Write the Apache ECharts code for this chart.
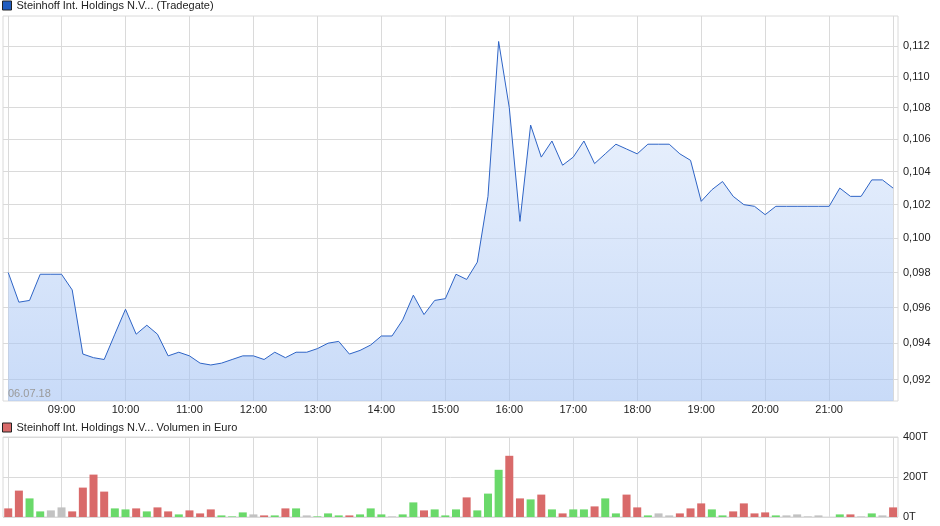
<!DOCTYPE html>
<html><head><meta charset="utf-8">
<script src="https://cdn.jsdelivr.net/npm/echarts@6/dist/echarts.min.js"></script>
<style>html,body{margin:0;padding:0;background:#fff}#c{width:940px;height:526px}</style>
</head><body><div id="c"></div>
<script>
const seriesName = 'Steinhoff Int. Holdings N.V... (Tradegate)';
const volumeName = 'Steinhoff Int. Holdings N.V... Volumen in Euro';
const dateLabel = '06.07.18';

const times = [
 '08:10','08:20','08:30','08:40','08:50',
 '09:00','09:10','09:20','09:30','09:40','09:50',
 '10:00','10:10','10:20','10:30','10:40','10:50',
 '11:00','11:10','11:20','11:30','11:40','11:50',
 '12:00','12:10','12:20','12:30','12:40','12:50',
 '13:00','13:10','13:20','13:30','13:40','13:50',
 '14:00','14:10','14:20','14:30','14:40','14:50',
 '15:00','15:10','15:20','15:30','15:40','15:50',
 '16:00','16:10','16:20','16:30','16:40','16:50',
 '17:00','17:10','17:20','17:30','17:40','17:50',
 '18:00','18:10','18:20','18:30','18:40','18:50',
 '19:00','19:10','19:20','19:30','19:40','19:50',
 '20:00','20:10','20:20','20:30','20:40','20:50',
 '21:00','21:10','21:20','21:30','21:40','21:50',
 '22:00'
];

const prices = [
 0.0980,0.0963,0.0964,0.0979,0.0979,
 0.0979,0.0970,0.0934,0.0932,0.0931,0.0945,
 0.0959,0.0945,0.0950,0.0945,0.0933,0.0935,
 0.0933,0.0929,0.0928,0.0929,0.0931,0.0933,
 0.0933,0.0931,0.0935,0.0932,0.0935,0.0935,
 0.0937,0.0940,0.0941,0.0934,0.0936,0.0939,
 0.0944,0.0944,0.0953,0.0967,0.0956,0.0964,
 0.0965,0.0979,0.0976,0.0986,0.1025,0.1123,
 0.1080,0.1010,0.1069,0.1049,0.1059,0.1044,
 0.1049,0.1059,0.1045,0.1051,0.1057,0.1054,
 0.1051,0.1057,0.1057,0.1057,0.1051,0.1047,
 0.1022,0.1029,0.1034,0.1025,0.1020,0.1019,
 0.1014,0.1019,0.1019,0.1019,0.1019,0.1019,
 0.1019,0.1030,0.1025,0.1025,0.1035,0.1035,
 0.1030
];

// volume in Euro
const volumes = [
 43000,132000,93000,28000,33000,
 48000,28000,147000,212000,127000,43000,
 38000,43000,28000,48000,28000,13000,
 33000,18000,38000,8000,3000,23000,
 13000,8000,8000,43000,43000,8000,
 3000,18000,8000,8000,13000,43000,
 13000,3000,13000,73000,33000,38000,
 8000,38000,98000,33000,117000,236000,
 306000,93000,88000,112000,38000,18000,
 38000,38000,53000,93000,18000,112000,
 48000,8000,18000,8000,18000,43000,
 68000,38000,8000,28000,68000,18000,
 23000,8000,8000,13000,3000,8000,
 0,13000,13000,3000,18000,8000,
 48000
];

// r = down, g = up, n = unchanged
const volumeDir = [
 'r','r','g','g','n',
 'n','r','r','r','r','g',
 'g','r','g','r','r','g',
 'r','r','r','g','g','g',
 'n','r','g','r','g','n',
 'g','g','g','r','g','g',
 'g','n','g','g','r','g',
 'g','g','r','g','g','g',
 'r','r','g','r','g','r',
 'g','g','r','g','g','r',
 'r','g','n','n','r','r',
 'r','g','g','r','r','r',
 'r','g','n','n','n','n',
 'n','g','r','n','g','n',
 'r'
];

const hourTicks = ['09:00','10:00','11:00','12:00','13:00','14:00','15:00','16:00','17:00','18:00','19:00','20:00','21:00'];
const priceTicks = [0.092,0.094,0.096,0.098,0.100,0.102,0.104,0.106,0.108,0.110,0.112];
const volumeTicks = [0,200000,400000];

const dirColors = { r: '#d96a6a', g: '#6ad96a', n: '#c2c2c2' };
const gridColor = '#dadada';
const font = "'Liberation Sans', Arial, sans-serif";

function toMin(t) { const p = t.split(':'); return (+p[0]) * 60 + (+p[1]); }
function fmtTime(v) { const h = Math.floor(v / 60), m = Math.round(v % 60); return (h < 10 ? '0' : '') + h + ':' + (m < 10 ? '0' : '') + m; }

const xVals = times.map(toMin);
const hourVals = hourTicks.map(toMin);
const lineTicks = [xVals[0]].concat(hourVals, [xVals[xVals.length - 1]]);

const xMin = 485.1, xMax = 1324.6;

const chart = echarts.init(document.getElementById('c'), null, { renderer: 'canvas' });

function xAxisCfg(gridIndex, showLabels) {
  return {
    type: 'value', gridIndex: gridIndex, min: xMin, max: xMax,
    axisLine: { show: false },
    axisTick: { show: false, customValues: lineTicks },
    splitLine: { show: true, lineStyle: { color: gridColor, width: 1 } },
    axisLabel: {
      show: showLabels, customValues: hourVals, margin: 3,
      formatter: fmtTime, color: '#222', fontSize: 11, fontFamily: font
    }
  };
}

chart.setOption({
  animation: false,
  backgroundColor: '#fff',
  textStyle: { fontFamily: font },
  title: {
    text: dateLabel, left: 8, top: 388, padding: 0,
    textStyle: { fontSize: 11, color: '#9a9a9a', fontWeight: 'normal', fontFamily: font }
  },
  legend: [
    {
      data: [seriesName], left: 2, top: 0, padding: 0, icon: 'rect',
      itemWidth: 9, itemHeight: 9, itemGap: 5, selectedMode: false,
      itemStyle: { borderColor: '#222', borderWidth: 1 },
      textStyle: { fontSize: 11, color: '#222', fontFamily: font }
    },
    {
      data: [volumeName], left: 2, top: 422, padding: 0, icon: 'rect',
      itemWidth: 9, itemHeight: 9, itemGap: 5, selectedMode: false,
      itemStyle: { borderColor: '#222', borderWidth: 1 },
      textStyle: { fontSize: 11, color: '#222', fontFamily: font }
    }
  ],
  grid: [
    { left: 3, right: 42, top: 16, bottom: 125, show: true, borderColor: gridColor, borderWidth: 1 },
    { left: 3, right: 42, top: 437, bottom: 9, show: true, borderColor: gridColor, borderWidth: 1 }
  ],
  xAxis: [xAxisCfg(0, true), xAxisCfg(1, false)],
  yAxis: [
    {
      type: 'log', logBase: 10, gridIndex: 0, position: 'right',
      min: 0.09085, max: 0.1140,
      axisLine: { show: false },
      axisTick: { show: false, customValues: priceTicks },
      splitLine: { show: true, lineStyle: { color: gridColor, width: 1 } },
      axisLabel: {
        customValues: priceTicks, margin: 5, color: '#222', fontSize: 11, fontFamily: font,
        formatter: v => v.toFixed(3).replace('.', ',')
      }
    },
    {
      type: 'value', gridIndex: 1, position: 'right',
      min: volumeTicks[0], max: volumeTicks[volumeTicks.length - 1], interval: volumeTicks[1] - volumeTicks[0],
      axisLine: { show: false },
      axisTick: { show: false },
      splitLine: { show: true, lineStyle: { color: gridColor, width: 1 } },
      axisLabel: {
        margin: 5, color: '#222', fontSize: 11, fontFamily: font,
        formatter: v => Math.round(v / 1000) + 'T'
      }
    }
  ],
  series: [
    {
      name: seriesName, type: 'line', xAxisIndex: 0, yAxisIndex: 0,
      data: xVals.map((x, i) => [x, prices[i]]),
      showSymbol: false, symbol: 'none',
      color: '#1f5cc0',
      lineStyle: { color: '#2e64c6', width: 1 },
      areaStyle: {
        origin: 'start',
        color: new echarts.graphic.LinearGradient(0, 0, 0, 1, [
          { offset: 0, color: 'rgba(230,239,253,0.82)' },
          { offset: 1, color: 'rgba(160,192,243,0.82)' }
        ])
      },
      z: 3
    },
    {
      name: volumeName, type: 'bar', xAxisIndex: 1, yAxisIndex: 1,
      barWidth: 8,
      color: dirColors.r,
      data: xVals.map((x, i) => ({ value: [x, volumes[i]], itemStyle: { color: dirColors[volumeDir[i]] } }))
    }
  ]
});
</script>
</body></html>
